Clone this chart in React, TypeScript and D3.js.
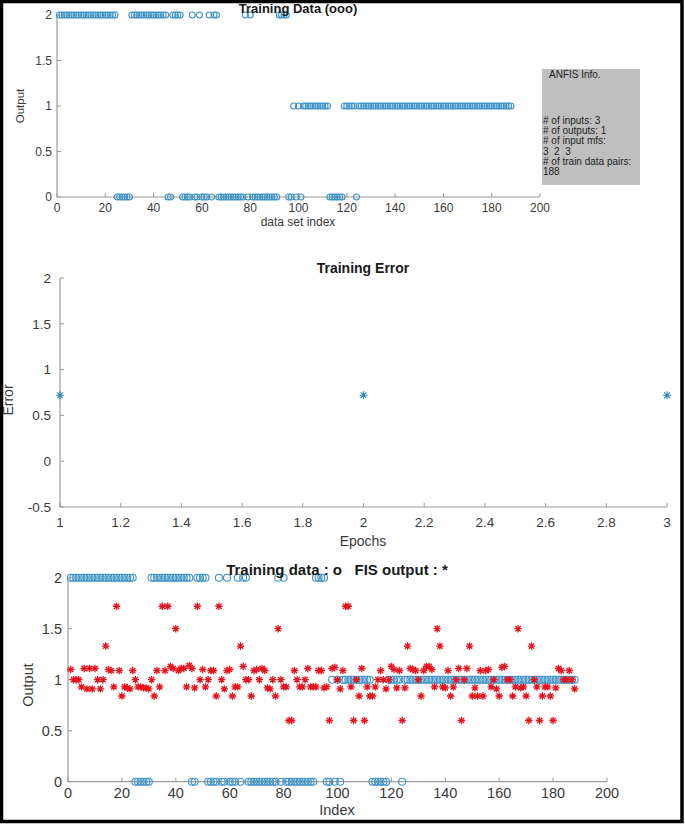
import React from "react";
import * as d3 from "d3";

const W = 685;
const H = 824;

// Training data (target outputs) for data set index 1..188
const trainingOutput: number[] = [
  2, 2, 2, 2, 2, 2, 2, 2, 2, 2,
  2, 2, 2, 2, 2, 2, 2, 2, 2, 2,
  2, 2, 2, 2, 0, 0, 0, 0, 0, 0,
  2, 2, 2, 2, 2, 2, 2, 2, 2, 2,
  2, 2, 2, 2, 2, 0, 0, 2, 2, 2,
  2, 0, 0, 0, 0, 2, 0, 0, 2, 0,
  0, 0, 2, 0, 2, 2, 0, 0, 0, 0,
  0, 0, 0, 0, 0, 0, 0, 2, 0, 2,
  0, 0, 0, 0, 0, 0, 0, 0, 0, 0,
  0, 2, 2, 2, 2, 0, 0, 1, 0, 1,
  0, 1, 1, 1, 1, 1, 1, 1, 1, 1,
  1, 1, 0, 0, 0, 0, 0, 0, 1, 1,
  1, 1, 1, 0, 1, 1, 1, 1, 1, 1,
  1, 1, 1, 1, 1, 1, 1, 1, 1, 1,
  1, 1, 1, 1, 1, 1, 1, 1, 1, 1,
  1, 1, 1, 1, 1, 1, 1, 1, 1, 1,
  1, 1, 1, 1, 1, 1, 1, 1, 1, 1,
  1, 1, 1, 1, 1, 1, 1, 1, 1, 1,
  1, 1, 1, 1, 1, 1, 1, 1,
];

// FIS output for index 1..188
const fisOutput: number[] = [
  1.1, 1.0, 1.0, 1.0, 0.93, 1.11, 0.91, 1.11, 0.91, 1.11,
  1.0, 0.91, 1.0, 1.33, 1.1, 1.09, 0.93, 1.72, 1.09, 0.84,
  0.93, 0.92, 0.91, 1.09, 1.0, 0.93, 0.93, 0.92, 0.92, 0.91,
  1.0, 0.84, 1.09, 0.93, 1.72, 1.09, 1.72, 1.13, 1.11, 1.5,
  1.09, 1.11, 1.11, 0.93, 1.14, 1.11, 0.92, 1.72, 1.0, 1.1,
  0.93, 1.0, 1.09, 1.09, 0.84, 1.72, 1.0, 0.91, 1.09, 1.1,
  0.84, 0.93, 0.93, 1.33, 1.13, 1.0, 1.0, 0.84, 1.09, 1.1,
  1.0, 1.11, 1.09, 0.92, 0.91, 1.0, 0.84, 1.5, 1.0, 0.93,
  0.93, 0.6, 0.6, 1.09, 1.0, 0.93, 0.93, 1.0, 1.11, 0.93,
  0.93, 0.93, 1.09, 1.09, 0.92, 0.93, 0.6, 1.11, 1.12, 1.0,
  0.91, 1.09, 1.72, 1.72, 0.93, 0.6, 1.0, 0.84, 1.11, 0.6,
  0.93, 0.84, 0.84, 0.93, 1.0, 1.09, 1.0, 0.91, 1.0, 1.13,
  1.1, 0.92, 1.09, 0.6, 0.92, 1.33, 1.11, 1.1, 1.09, 1.0,
  0.84, 1.09, 1.13, 1.13, 1.1, 0.93, 1.5, 1.33, 0.93, 0.92,
  1.09, 0.84, 0.93, 1.0, 1.11, 0.6, 1.0, 1.11, 1.33, 0.84,
  0.92, 0.84, 1.09, 0.84, 1.09, 1.1, 0.93, 1.0, 0.91, 0.84,
  1.12, 1.13, 1.0, 1.0, 0.84, 0.93, 1.5, 0.92, 0.93, 0.84,
  0.6, 1.33, 1.0, 0.93, 0.6, 0.84, 0.93, 0.93, 0.84, 0.6,
  0.92, 1.11, 1.09, 1.0, 1.0, 1.09, 1.0, 0.91,
];

// Training error per epoch
const epochs: number[] = [1, 2, 3];
const trainingError: number[] = [0.72, 0.72, 0.72];

// Tick values
const indexTicks: number[] = [0, 20, 40, 60, 80, 100, 120, 140, 160, 180, 200];
const outputTicks: number[] = [0, 0.5, 1, 1.5, 2];
const epochTicks: number[] = [1, 1.2, 1.4, 1.6, 1.8, 2, 2.2, 2.4, 2.6, 2.8, 3];
const errorTicks: number[] = [-0.5, 0, 0.5, 1, 1.5, 2];

const infoLines: string[] = [
  "# of inputs: 3",
  "# of outputs: 1",
  "# of input mfs:",
  "3  2  3",
  "# of train data pairs:",
  "188",
];

const FONT = "'Liberation Sans', Arial, Helvetica, sans-serif";
const AXIS_COLOR = "#9a9a9a";
const LABEL_COLOR = "#3a3a3a";
const CIRCLE_COLOR = "#3f93c8";
const STAR_RED = "#e8121c";
const STAR_BLUE = "#2f86c4";

function starPath(x: number, y: number, r: number): string {
  const d = r * 0.72;
  return `M${x - r},${y}h${2 * r}M${x},${y - r}v${2 * r}M${x - d},${y - d}l${2 * d},${2 * d}M${x - d},${y + d}l${2 * d},${-2 * d}`;
}

type AxesProps = {
  x: d3.ScaleLinear<number, number>;
  y: d3.ScaleLinear<number, number>;
  xTicks: number[];
  yTicks: number[];
  fontSize: number;
  xLabelDy: number;
  yLabelRight: number;
  xFmt?: (v: number) => string;
};

function Axes({ x, y, xTicks, yTicks, fontSize, xLabelDy, yLabelRight, xFmt }: AxesProps) {
  const [x0, x1] = x.range();
  const [y0, y1] = y.range();
  const yBottom = Math.max(y0, y1);
  const yTop = Math.min(y0, y1);
  const fmt = xFmt || ((v: number) => String(v));
  return (
    <g>
      <line x1={x0} x2={x1} y1={yBottom} y2={yBottom} stroke={AXIS_COLOR} strokeWidth={1.2} />
      <line x1={x0} x2={x0} y1={yTop} y2={yBottom} stroke={AXIS_COLOR} strokeWidth={1.2} />
      {xTicks.map((t) => (
        <g key={"x" + t}>
          <line x1={x(t)} x2={x(t)} y1={yBottom} y2={yBottom - 4} stroke={AXIS_COLOR} strokeWidth={1} />
          <text
            x={x(t)}
            y={yBottom + xLabelDy}
            textAnchor="middle"
            fontSize={fontSize}
            fill={LABEL_COLOR}
            fontFamily={FONT}
          >
            {fmt(t)}
          </text>
        </g>
      ))}
      {yTicks.map((t) => (
        <g key={"y" + t}>
          <line x1={x0} x2={x0 + 4} y1={y(t)} y2={y(t)} stroke={AXIS_COLOR} strokeWidth={1} />
          <text
            x={yLabelRight}
            y={y(t) + fontSize * 0.36}
            textAnchor="end"
            fontSize={fontSize}
            fill={LABEL_COLOR}
            fontFamily={FONT}
          >
            {String(t)}
          </text>
        </g>
      ))}
    </g>
  );
}

export default function App() {
  const idx = d3.range(1, trainingOutput.length + 1);

  // Top chart
  const xTop = d3.scaleLinear().domain([0, 200]).range([57, 540]);
  const yTop = d3.scaleLinear().domain([0, 2]).range([197, 15]);

  // Middle chart
  const xMid = d3.scaleLinear().domain([1, 3]).range([60, 667]);
  const yMid = d3.scaleLinear().domain([-0.5, 2]).range([507, 278]);

  // Bottom chart
  const xBot = d3.scaleLinear().domain([0, 200]).range([68, 607]);
  const yBot = d3.scaleLinear().domain([0, 2]).range([781.7, 577.7]);

  return (
    <svg
      width={W}
      height={H}
      style={{ position: "absolute", left: 0, top: 0, background: "#fff" }}
      fontFamily={FONT}
    >
      <rect x={0} y={0} width={W} height={H} fill="#fff" />

      {/* ---------- Top: Training Data (ooo) ---------- */}
      <Axes x={xTop} y={yTop} xTicks={indexTicks} yTicks={outputTicks} fontSize={12} xLabelDy={15} yLabelRight={52} />
      <g fill="none" stroke={CIRCLE_COLOR} strokeWidth={1.1}>
        {idx.map((i, k) => (
          <circle key={k} cx={xTop(i)} cy={yTop(trainingOutput[k])} r={3} />
        ))}
      </g>
      <text x={298} y={13} textAnchor="middle" fontSize={13} fontWeight="bold" fill="#1a1a1a">
        Training Data (ooo)
      </text>
      <text x={298} y={226} textAnchor="middle" fontSize={12} fill={LABEL_COLOR}>
        data set index
      </text>
      <text transform={`translate(24,106) rotate(-90)`} textAnchor="middle" fontSize={11.5} fill={LABEL_COLOR}>
        Output
      </text>

      {/* Info box */}
      <rect x={542} y={69} width={98} height={116} fill="#bfbfbf" />
      <text x={549} y={78} fontSize={10} fill="#222">
        ANFIS Info.
      </text>
      {infoLines.map((s, k) => (
        <text key={k} x={543} y={124 + k * 10.2} fontSize={10} fill="#222" style={{ whiteSpace: "pre" }}>
          {s}
        </text>
      ))}

      {/* ---------- Middle: Training Error ---------- */}
      <Axes
        x={xMid}
        y={yMid}
        xTicks={epochTicks}
        yTicks={errorTicks}
        fontSize={13.5}
        xLabelDy={20}
        yLabelRight={51}
        xFmt={(v) => d3.format("~g")(+v.toFixed(1))}
      />
      <g stroke={STAR_BLUE} strokeWidth={1.1} fill="none">
        {epochs.map((e, k) => (
          <path key={k} d={starPath(xMid(e), yMid(trainingError[k]), 4)} />
        ))}
      </g>
      <text x={363} y={273} textAnchor="middle" fontSize={14} fontWeight="bold" fill="#1a1a1a">
        Training Error
      </text>
      <text x={363} y={546} textAnchor="middle" fontSize={14} fill={LABEL_COLOR}>
        Epochs
      </text>
      <text transform={`translate(13,400) rotate(-90)`} textAnchor="middle" fontSize={14} fill={LABEL_COLOR}>
        Error
      </text>

      {/* ---------- Bottom: Training data vs FIS output ---------- */}
      <Axes x={xBot} y={yBot} xTicks={indexTicks} yTicks={outputTicks} fontSize={14.5} xLabelDy={16} yLabelRight={62} />
      <g fill="none" stroke={CIRCLE_COLOR} strokeWidth={1.1}>
        {idx.map((i, k) => (
          <circle key={k} cx={xBot(i)} cy={yBot(trainingOutput[k])} r={3.5} />
        ))}
      </g>
      <g stroke={STAR_RED} strokeWidth={1.3} fill="none">
        {idx.map((i, k) => (
          <path key={k} d={starPath(xBot(i), yBot(fisOutput[k]), 3.7)} />
        ))}
      </g>
      <text x={337} y={575} textAnchor="middle" fontSize={15} fontWeight="bold" fill="#1a1a1a" style={{ whiteSpace: "pre" }}>
        {"Training data : o   FIS output : *"}
      </text>
      <text x={337} y={815} textAnchor="middle" fontSize={14.5} fill={LABEL_COLOR}>
        Index
      </text>
      <text transform={`translate(33,685) rotate(-90)`} textAnchor="middle" fontSize={14.5} fill={LABEL_COLOR}>
        Output
      </text>

      {/* Outer frame */}
      <rect x={1.5} y={1.5} width={680.5} height={820} fill="none" stroke="#000" strokeWidth={3.5} />
    </svg>
  );
}
